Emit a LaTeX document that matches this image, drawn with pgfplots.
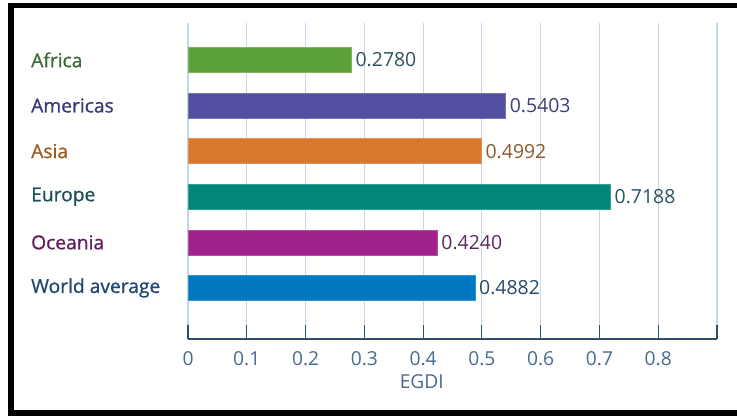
\documentclass[border=0pt]{standalone}
\usepackage{pgfplots}
\pgfplotsset{compat=1.18}
\usepackage{fontspec}
\setmainfont{Open Sans}
\newfontfamily\labfont{Open Sans}[FakeBold=0.8]
\definecolor{bAf}{HTML}{5CA03A}
\definecolor{bAm}{HTML}{5350A1}
\definecolor{bAs}{HTML}{D9772E}
\definecolor{bEu}{HTML}{00877A}
\definecolor{bOc}{HTML}{A2228D}
\definecolor{bWo}{HTML}{0077C1}
\definecolor{lAf}{HTML}{3A6B35}
\definecolor{lAm}{HTML}{3A3778}
\definecolor{lAs}{HTML}{9C5A23}
\definecolor{lEu}{HTML}{1E4F57}
\definecolor{lOc}{HTML}{5E1D58}
\definecolor{lWo}{HTML}{1F4670}
\definecolor{vAf}{HTML}{2F5060}
\definecolor{vAm}{HTML}{3A3F7A}
\definecolor{vAs}{HTML}{8A5A30}
\definecolor{vEu}{HTML}{2A5560}
\definecolor{vOc}{HTML}{5A2A60}
\definecolor{vWo}{HTML}{2A4A6A}
\definecolor{gridc}{HTML}{C5D6EC}
\definecolor{axc}{HTML}{2E4E70}
\definecolor{tickc}{HTML}{4A6A90}
\begin{document}
\begin{tikzpicture}[x=1bp,y=1bp]
\path[use as bounding box] (0,0) rectangle (737,416);
\fill[white] (0,0) rectangle (737,416);
\fill[black] (8,0) rectangle (14,413);
\fill[black] (8,408) rectangle (737,413);
\fill[black] (8,0) rectangle (737,6);
\begin{axis}[
  at={(188bp,77bp)}, anchor=south west,
  scale only axis, width=529bp, height=316bp,
  xmin=0, xmax=0.9, ymin=-0.81, ymax=6.12, y dir=reverse,
  axis x line=bottom, axis y line=left,
  x axis line style={-, color=axc, line width=1.2bp},
  y axis line style={draw=none},
  xtick={0,0.1,0.2,0.3,0.4,0.5,0.6,0.7,0.8,0.9},
  xticklabels={0,0.1,0.2,0.3,0.4,0.5,0.6,0.7,0.8,{}},
  xtick align=inside, major tick length=14bp,
  xtick style={color=axc, line width=1.2bp},
  ytick={0,1,2,3,4,5},
  ytick style={draw=none},
  yticklabels={\textcolor{lAf}{Africa},\textcolor{lAm}{Americas},\textcolor{lAs}{Asia},\textcolor{lEu}{Europe},\textcolor{lOc}{Oceania},\textcolor{lWo}{World average}},
  yticklabel style={anchor=west, inner sep=0pt, xshift=-143bp, font=\labfont\fontsize{19.3}{23}\selectfont},
  xticklabel style={text=tickc, font=\fontsize{19.3}{23}\selectfont, yshift=-9bp},
  xmajorgrids, grid style={color=gridc, line width=1.2bp},
  xlabel={EGDI},
  xlabel style={at={(axis description cs:0.442,-0.136)}, anchor=center, text=tickc, font=\fontsize{19.3}{23}\selectfont},
  xbar, bar width=25bp, bar shift=0pt,
  nodes near coords, point meta=explicit symbolic,
  nodes near coords style={anchor=west, inner sep=4bp, font=\fontsize{19.5}{23}\selectfont},
]
\addplot[fill=bAf, draw=bAf!80!white, nodes near coords style={text=vAf}] coordinates {(0.2780,0) [0.2780]};
\addplot[fill=bAm, draw=bAm!80!white, nodes near coords style={text=vAm}] coordinates {(0.5403,1) [0.5403]};
\addplot[fill=bAs, draw=bAs!80!white, nodes near coords style={text=vAs}] coordinates {(0.4992,2) [0.4992]};
\addplot[fill=bEu, draw=bEu!80!white, nodes near coords style={text=vEu}] coordinates {(0.7188,3) [0.7188]};
\addplot[fill=bOc, draw=bOc!80!white, nodes near coords style={text=vOc}] coordinates {(0.4240,4) [0.4240]};
\addplot[fill=bWo, draw=bWo!80!white, nodes near coords style={text=vWo}] coordinates {(0.4882,5) [0.4882]};
\end{axis}
\end{tikzpicture}
\end{document}
